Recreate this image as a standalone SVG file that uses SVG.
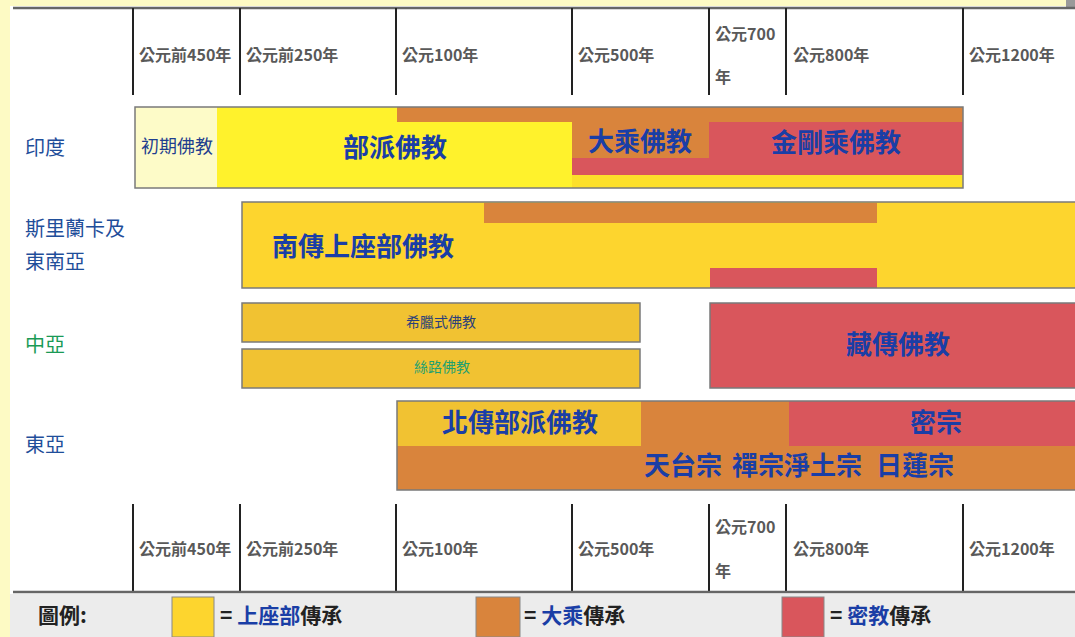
<svg xmlns="http://www.w3.org/2000/svg" width="1075" height="637" viewBox="0 0 1075 637">
<style>
.ax{font-family:"Noto Sans CJK TC","Liberation Sans",sans-serif;font-size:16px;font-weight:bold;fill:#595959}
.tick{stroke:#222;stroke-width:2}
.rule{stroke:#666;stroke-width:2.5}
.reg{font-family:"Noto Sans CJK TC","Liberation Sans",sans-serif;font-size:20px;fill:#1f4e9a}
.big{font-family:"Noto Sans CJK TC","Liberation Sans",sans-serif;font-size:26px;font-weight:bold;fill:#1a3ea6;text-anchor:middle}
.sm{font-family:"Noto Sans CJK TC","Liberation Sans",sans-serif;font-size:14px;text-anchor:middle}
.box{stroke:#7a7a7a;stroke-width:1.5;fill:none}
.y{fill:#fdd52e}.o{fill:#d9843c}.r{fill:#d9565c}
.lg{font-family:"Noto Sans CJK TC","Liberation Sans",sans-serif;font-size:21px;font-weight:bold;fill:#222}
</style>
<rect width="1075" height="637" fill="#fdfac4"/>
<rect x="10" y="6" width="1065" height="631" fill="#ffffff"/>
<rect x="1066" y="0" width="9" height="7" fill="#9a9a9a"/>

<g id="axis-top">
<line class="rule" x1="13" y1="8" x2="1075" y2="8"/>
<line class="tick" x1="133" y1="8" x2="133" y2="95"/>
<line class="tick" x1="240" y1="8" x2="240" y2="95"/>
<line class="tick" x1="396" y1="8" x2="396" y2="95"/>
<line class="tick" x1="572" y1="8" x2="572" y2="95"/>
<line class="tick" x1="709" y1="8" x2="709" y2="95"/>
<line class="tick" x1="786" y1="8" x2="786" y2="95"/>
<line class="tick" x1="963" y1="8" x2="963" y2="95"/>
<text class="ax" x="139" y="61">公元前450年</text>
<text class="ax" x="246" y="61">公元前250年</text>
<text class="ax" x="402" y="61">公元100年</text>
<text class="ax" x="578" y="61">公元500年</text>
<text class="ax" x="715" y="40">公元700</text>
<text class="ax" x="715" y="83">年</text>
<text class="ax" x="793" y="61">公元800年</text>
<text class="ax" x="969" y="61">公元1200年</text>
</g>

<g id="axis-bottom">
<line class="tick" x1="133" y1="504" x2="133" y2="592"/>
<line class="tick" x1="240" y1="504" x2="240" y2="592"/>
<line class="tick" x1="396" y1="504" x2="396" y2="592"/>
<line class="tick" x1="572" y1="504" x2="572" y2="592"/>
<line class="tick" x1="709" y1="504" x2="709" y2="592"/>
<line class="tick" x1="786" y1="504" x2="786" y2="592"/>
<line class="tick" x1="963" y1="504" x2="963" y2="592"/>
<line class="rule" x1="13" y1="592" x2="1075" y2="592"/>
<text class="ax" x="139" y="555">公元前450年</text>
<text class="ax" x="246" y="555">公元前250年</text>
<text class="ax" x="402" y="555">公元100年</text>
<text class="ax" x="578" y="555">公元500年</text>
<text class="ax" x="715" y="533">公元700</text>
<text class="ax" x="715" y="577">年</text>
<text class="ax" x="793" y="555">公元800年</text>
<text class="ax" x="969" y="555">公元1200年</text>
</g>

<g id="region-labels">
<text class="reg" x="25" y="155">印度</text>
<text class="reg" x="25" y="236">斯里蘭卡及</text>
<text class="reg" x="25" y="269">東南亞</text>
<text class="reg" x="25" y="352" style="fill:#1a9a55">中亞</text>
<text class="reg" x="25" y="452">東亞</text>
</g>

<g id="india">
<rect x="135" y="107" width="82" height="81" fill="#fdfbc8"/>
<rect x="217" y="107" width="355" height="81" fill="#fff22c"/>
<rect x="572" y="107" width="391" height="81" fill="#fde02a"/>
<rect class="o" x="397" y="107" width="566" height="15"/>
<rect class="o" x="572" y="122" width="137" height="36"/>
<rect class="r" x="572" y="158" width="137" height="17"/>
<rect class="r" x="709" y="122" width="254" height="53"/>
<rect class="box" x="135" y="107" width="828" height="81"/>
<text class="sm" x="177" y="153" style="font-size:18px;fill:#1f3f8f">初期佛教</text>
<text class="big" x="395" y="157">部派佛教</text>
<text class="big" x="640" y="151">大乘佛教</text>
<text class="big" x="836" y="152">金剛乘佛教</text>
</g>

<g id="srilanka">
<rect class="y" x="242" y="202" width="833" height="86"/>
<rect class="o" x="484" y="203" width="393" height="20"/>
<rect class="r" x="710" y="268" width="167" height="20"/>
<path d="M1075 202 H242 V288 H1075" fill="none" stroke="#7a7a7a" stroke-width="1.5"/>
<text class="big" x="363" y="256">南傳上座部佛教</text>
</g>

<g id="central-asia">
<rect x="242" y="303" width="398" height="39" fill="#f1c232" stroke="#7a7a7a" stroke-width="1.5"/>
<text class="sm" x="441" y="327" fill="#2a3f7a">希臘式佛教</text>
<rect x="242" y="349" width="398" height="39" fill="#f1c232" stroke="#7a7a7a" stroke-width="1.5"/>
<text class="sm" x="442" y="372" fill="#1fa070">絲路佛教</text>
</g>

<g id="tibet">
<path d="M1075 303 H710 V388 H1075 Z" class="r"/>
<path d="M1075 303 H710 V388 H1075" fill="none" stroke="#7a7a7a" stroke-width="1.5"/>
<text class="big" x="898" y="354">藏傳佛教</text>
</g>

<g id="east-asia">
<rect class="o" x="397" y="401" width="678" height="89"/>
<rect x="397" y="401" width="244" height="45" fill="#f1c232"/>
<rect class="r" x="789" y="401" width="286" height="45"/>
<path d="M1075 401 H397 V490 H1075" fill="none" stroke="#7a7a7a" stroke-width="1.5"/>
<text class="big" x="520" y="432">北傳部派佛教</text>
<text class="big" x="936" y="432">密宗</text>
<text class="big" x="683" y="475">天台宗</text>
<text class="big" x="797" y="475">禪宗淨土宗</text>
<text class="big" x="915" y="475">日蓮宗</text>
</g>

<g id="legend">
<rect x="10" y="594" width="1065" height="43" fill="#ececec"/>
<text class="lg" x="38" y="623">圖例:</text>
<rect class="y" x="172" y="597" width="42" height="40" stroke="#888" stroke-width="1"/>
<text class="lg" x="220" y="623">= <tspan fill="#1a3ea6">上座部</tspan>傳承</text>
<rect class="o" x="476" y="597" width="44" height="40" stroke="#888" stroke-width="1"/>
<text class="lg" x="524" y="623">= <tspan fill="#1a3ea6">大乘</tspan>傳承</text>
<rect class="r" x="782" y="597" width="42" height="40" stroke="#888" stroke-width="1"/>
<text class="lg" x="830" y="623">= <tspan fill="#1a3ea6">密教</tspan>傳承</text>
</g>
</svg>
